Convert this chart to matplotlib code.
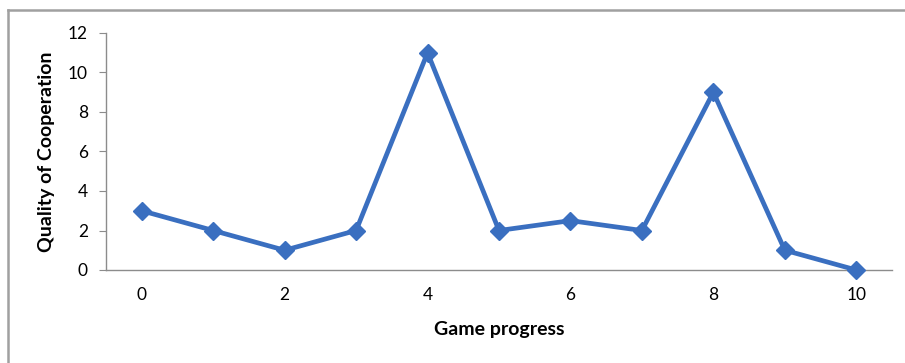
import matplotlib
matplotlib.use("Agg")
import matplotlib.pyplot as plt
from matplotlib.lines import Line2D

plt.rcParams['font.family'] = ['Lato', 'DejaVu Sans']

# game progress steps and cooperation quality
progress = [0, 1, 2, 3, 4, 5, 6, 7, 8, 9, 10]
quality = [3, 2, 1, 2, 11, 2, 2.5, 2, 9, 1, 0]
x_ticks = [0, 2, 4, 6, 8, 10]
y_ticks = [0, 2, 4, 6, 8, 10, 12]

fig = plt.figure(figsize=(9.05, 3.63), dpi=100)
ax = fig.add_axes([106 / 905, 1 - 270 / 363, 786 / 905, 237 / 363])

ax.plot(progress, quality, color='#3A6FC0', lw=3.4, marker='D',
        markersize=9, clip_on=False, zorder=3)

ax.set_xlim(-0.5, 10.5)
ax.set_ylim(0, 12)
ax.set_xticks(x_ticks)
ax.set_yticks(y_ticks)

for s in ['top', 'right']:
    ax.spines[s].set_visible(False)
for s in ['left', 'bottom']:
    ax.spines[s].set_color('#8c8c8c')
    ax.spines[s].set_linewidth(1.0)

ax.tick_params(axis='y', length=5, color='#8c8c8c', labelsize=12.5, pad=8)
ax.tick_params(axis='x', length=0, labelsize=12.5, pad=12)

ax.set_xlabel('Game progress', fontsize=14, fontweight='bold', labelpad=13)
ax.set_ylabel('Quality of Cooperation', fontsize=14, fontweight='bold',
              labelpad=9)

# chart frame
fig.add_artist(Line2D([7.5 / 905, 7.5 / 905], [0, 1 - 9.5 / 363],
                      transform=fig.transFigure, color='#a0a0a0', lw=1.8))
fig.add_artist(Line2D([7.5 / 905, 1], [1 - 9.5 / 363, 1 - 9.5 / 363],
                      transform=fig.transFigure, color='#a0a0a0', lw=1.8))

fig.savefig('out.png', dpi=100)
